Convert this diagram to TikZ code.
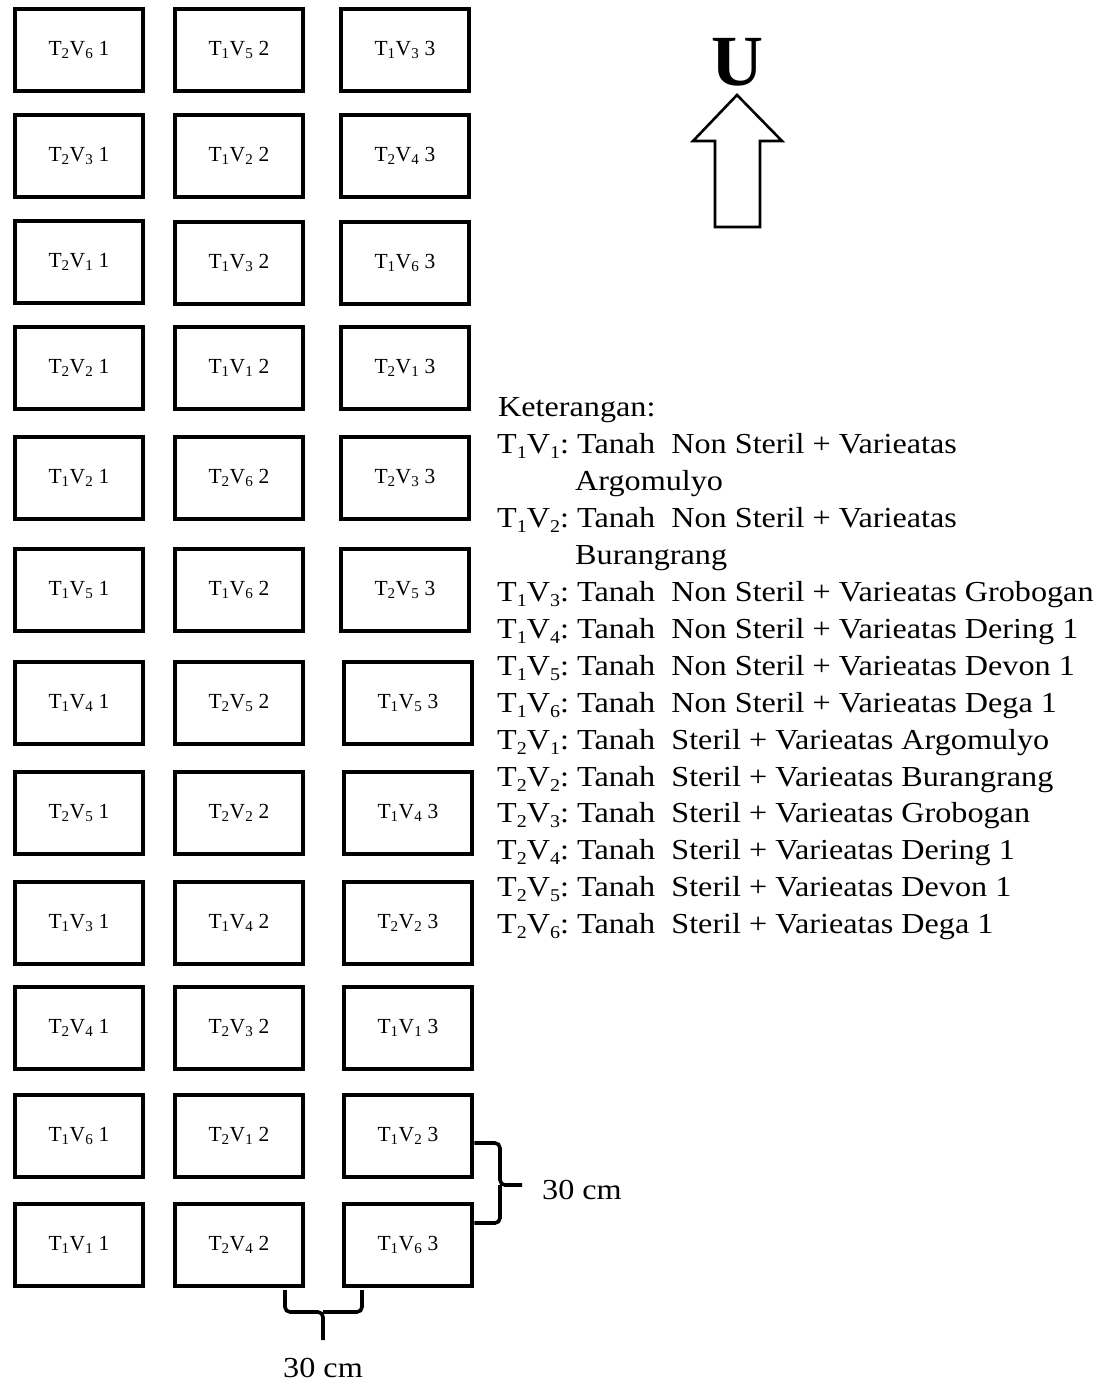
\documentclass[tikz,border=0pt]{standalone}
\usepackage{fontspec}
\setmainfont{Liberation Serif}
\newfontfamily\legfont[FakeStretch=1.11]{Liberation Serif}
\frenchspacing
\newcommand\tv[3]{T\textsubscript{#1}V\textsubscript{#2}~#3}
\newcommand\lsb[1]{\raisebox{-0.2em}{\fontsize{18}{18}\selectfont #1}}
\newcommand\lgk[2]{T\lsb{#1}V\lsb{#2}}
\begin{document}
\begin{tikzpicture}[x=1pt,y=-1pt,
  plotbox/.style={draw, line width=4.3pt, minimum width=128.5pt, minimum height=81.5pt, inner sep=0pt,
     font=\fontsize{21.5}{25}\selectfont},
  legline/.style={anchor=base west, inner sep=0pt, font=\legfont\fontsize{29}{35}\selectfont},
  dimtext/.style={inner sep=0pt, font=\legfont\fontsize{29}{35}\selectfont},
  bracebar/.style={line width=3.6pt, rounded corners=5pt},
  northarrow/.style={line width=2.6pt, line join=miter}]
\useasboundingbox (0,0) rectangle (1106,1384);
% grid of plots
\node[plotbox] (r1c1) at (79,50) {\tv261};
\node[plotbox] (r1c2) at (239,50) {\tv152};
\node[plotbox] (r1c3) at (405,50) {\tv133};
\node[plotbox] (r2c1) at (79,156) {\tv231};
\node[plotbox] (r2c2) at (239,156) {\tv122};
\node[plotbox] (r2c3) at (405,156) {\tv243};
\node[plotbox] (r3c1) at (79,262) {\tv211};
\node[plotbox] (r3c2) at (239,263) {\tv132};
\node[plotbox] (r3c3) at (405,263) {\tv163};
\node[plotbox] (r4c1) at (79,368) {\tv221};
\node[plotbox] (r4c2) at (239,368) {\tv112};
\node[plotbox] (r4c3) at (405,368) {\tv213};
\node[plotbox] (r5c1) at (79,478) {\tv121};
\node[plotbox] (r5c2) at (239,478) {\tv262};
\node[plotbox] (r5c3) at (405,478) {\tv233};
\node[plotbox] (r6c1) at (79,590) {\tv151};
\node[plotbox] (r6c2) at (239,590) {\tv162};
\node[plotbox] (r6c3) at (405,590) {\tv253};
\node[plotbox] (r7c1) at (79,703) {\tv141};
\node[plotbox] (r7c2) at (239,703) {\tv252};
\node[plotbox] (r7c3) at (408,703) {\tv153};
\node[plotbox] (r8c1) at (79,813) {\tv251};
\node[plotbox] (r8c2) at (239,813) {\tv222};
\node[plotbox] (r8c3) at (408,813) {\tv143};
\node[plotbox] (r9c1) at (79,923) {\tv131};
\node[plotbox] (r9c2) at (239,923) {\tv142};
\node[plotbox] (r9c3) at (408,923) {\tv223};
\node[plotbox] (r10c1) at (79,1028) {\tv241};
\node[plotbox] (r10c2) at (239,1028) {\tv232};
\node[plotbox] (r10c3) at (408,1028) {\tv113};
\node[plotbox] (r11c1) at (79,1136) {\tv161};
\node[plotbox] (r11c2) at (239,1136) {\tv212};
\node[plotbox] (r11c3) at (408,1136) {\tv123};
\node[plotbox] (r12c1) at (79,1245) {\tv111};
\node[plotbox] (r12c2) at (239,1245) {\tv242};
\node[plotbox] (r12c3) at (408,1245) {\tv163};
% north arrow
\node[font=\fontsize{72}{72}\selectfont\bfseries, inner sep=0pt] (north) at (737,62) {U};
\draw[northarrow] (715,227) -- (715,141) -- (693,141) -- (737,95) -- (782,141) -- (760,141) -- (760,227) -- cycle;
% legend
\node[legline] (ket) at (498,416) {Keterangan:};
\node[legline] (l1) at (497,453) {\lgk11: Tanah\ \ Non Steril + Varieatas};
\node[legline] (l1b) at (575,490) {Argomulyo};
\node[legline] (l2) at (497,527) {\lgk12: Tanah\ \ Non Steril + Varieatas};
\node[legline] (l2b) at (575,564) {Burangrang};
\node[legline] (l3) at (497,601) {\lgk13: Tanah\ \ Non Steril + Varieatas Grobogan};
\node[legline] (l4) at (497,638) {\lgk14: Tanah\ \ Non Steril + Varieatas Dering 1};
\node[legline] (l5) at (497,675) {\lgk15: Tanah\ \ Non Steril + Varieatas Devon 1};
\node[legline] (l6) at (497,712) {\lgk16: Tanah\ \ Non Steril + Varieatas Dega 1};
\node[legline] (l7) at (497,749) {\lgk21: Tanah\ \ Steril + Varieatas Argomulyo};
\node[legline] (l8) at (497,786) {\lgk22: Tanah\ \ Steril + Varieatas Burangrang};
\node[legline] (l9) at (497,822) {\lgk23: Tanah\ \ Steril + Varieatas Grobogan};
\node[legline] (l10) at (497,859) {\lgk24: Tanah\ \ Steril + Varieatas Dering 1};
\node[legline] (l11) at (497,896) {\lgk25: Tanah\ \ Steril + Varieatas Devon 1};
\node[legline] (l12) at (497,933) {\lgk26: Tanah\ \ Steril + Varieatas Dega 1};
% right 30 cm brace
\coordinate (ra) at (r11c3.east |- 0,1143);
\coordinate (rb) at (r12c3.east |- 0,1223);
\coordinate (rtip) at (522,1185);
\draw[bracebar] (ra) -- (500,1143) -- (500,1185) -- (rtip);
\draw[bracebar] (rb) -- (500,1223) -- (500,1185);
\node[dimtext, anchor=west] (dimv) at (542,1190) {30 cm};
% bottom 30 cm brace
\coordinate (ba) at (285,1290);
\coordinate (bb) at (362,1290);
\coordinate (btip) at (323,1340);
\draw[bracebar] (ba) -- (285,1312) -- (323,1312) -- (btip);
\draw[bracebar] (bb) -- (362,1312) -- (323,1312);
\node[dimtext] (dimh) at (323,1368) {30 cm};
\end{tikzpicture}
\end{document}
